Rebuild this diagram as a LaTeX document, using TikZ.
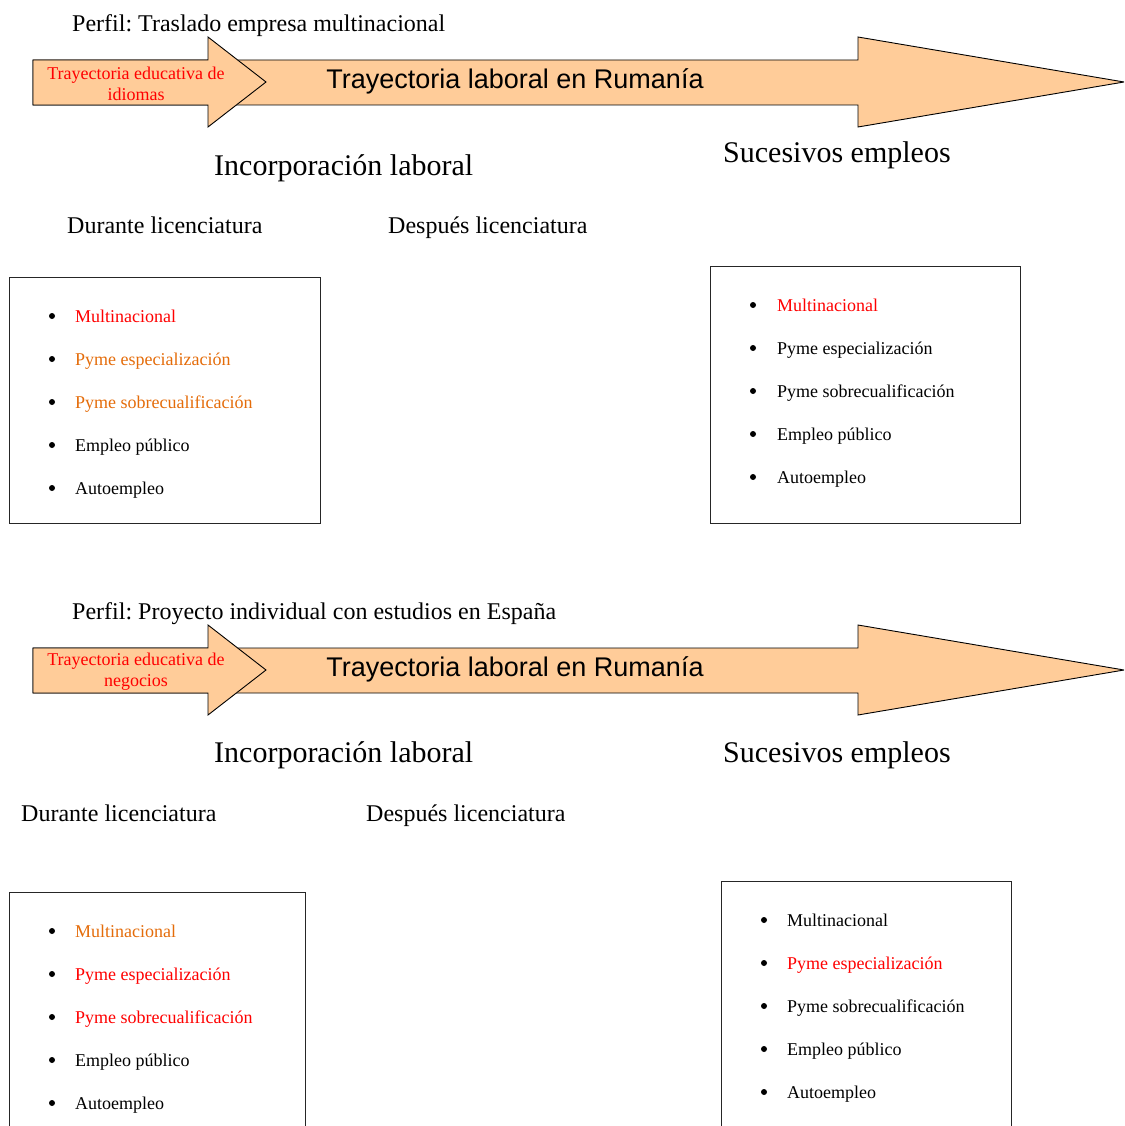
\documentclass[tikz,border=0pt]{standalone}
\usepackage{fontspec}
\setmainfont{Liberation Serif}
\newfontfamily\arialf{Liberation Sans}
\frenchspacing
\definecolor{peach}{RGB}{255,204,153}
\definecolor{orng}{RGB}{228,108,10}
\tikzset{
  arrowshape/.style={fill=peach, draw=black, line width=0.9pt, line join=miter},
  txt/.style={inner sep=0pt, text depth=0pt},
  perfilst/.style={txt, text height=16.3pt, anchor=west, font=\fontsize{24}{28}\selectfont},
  subst/.style={txt, text height=16.3pt, anchor=west, font=\fontsize{24}{28}\selectfont},
  headst/.style={txt, text height=20.4pt, anchor=west, font=\fontsize{30}{34}\selectfont},
  edust/.style={inner sep=0pt, align=center, text=red, font=\fontsize{18}{21}\selectfont},
  labst/.style={txt, text height=19.5pt, font=\arialf\fontsize{27}{30}\selectfont},
  boxst/.style={draw=black!85, line width=0.9pt, anchor=north west, inner sep=0pt},
  itemst/.style={txt, text height=12.3pt, anchor=west, font=\fontsize{18}{21}\selectfont},
  bulst/.style={circle, fill=black, inner sep=0pt, minimum size=6pt},
}
\begin{document}
\begin{tikzpicture}[x=1pt,y=-1pt]
\useasboundingbox (0,0) rectangle (1124,1126);
\clip (0,0) rectangle (1124,1126);

% ---------- Group 1 ----------
\node[perfilst] (perfil1) at (72,23) {Perfil: Traslado empresa multinacional};
\draw[arrowshape] (33,60) -- (858,60) -- (858,37) -- (1124,82) -- (858,127) -- (858,105) -- (33,105) -- cycle;
\draw[arrowshape] (33,60) -- (208,60) -- (208,37) -- (266,82) -- (208,127) -- (208,105) -- (33,105) -- cycle;
\node[edust] (edu1) at (136,84) {Trayectoria educativa de\\idiomas};
\node[labst] (lab1) at (515,79) {Trayectoria laboral en Rumanía};
\node[headst] (inc1) at (214,165) {Incorporación laboral};
\node[headst] (suc1) at (723,152) {Sucesivos empleos};
\node[subst] (dur1) at (67,225) {Durante licenciatura};
\node[subst] (des1) at (388,225) {Después licenciatura};

\node[boxst, minimum width=311pt, minimum height=246pt] (box1) at (9,277) {};
\foreach \t/\c/\yy [count=\i] in {Multinacional/red/316, Pyme especialización/orng/359, Pyme sobrecualificación/orng/402, Empleo público/black/445, Autoempleo/black/488}{
  \node[bulst] (b1bul\i) at (52,\yy) {};
  \node[itemst, text=\c] (b1it\i) at (75,\yy) {\t};
}

\node[boxst, minimum width=310pt, minimum height=257pt] (box2) at (710,266) {};
\foreach \t/\c/\yy [count=\i] in {Multinacional/red/305, Pyme especialización/black/348, Pyme sobrecualificación/black/391, Empleo público/black/434, Autoempleo/black/477}{
  \node[bulst] (b2bul\i) at (753,\yy) {};
  \node[itemst, text=\c] (b2it\i) at (777,\yy) {\t};
}

% ---------- Group 2 ----------
\node[perfilst] (perfil2) at (72,611) {Perfil: Proyecto individual con estudios en España};
\draw[arrowshape] (33,648) -- (858,648) -- (858,625) -- (1124,670) -- (858,715) -- (858,693) -- (33,693) -- cycle;
\draw[arrowshape] (33,648) -- (208,648) -- (208,625) -- (266,670) -- (208,715) -- (208,693) -- (33,693) -- cycle;
\node[edust] (edu2) at (136,672) {Trayectoria educativa de\\negocios};
\node[labst] (lab2) at (515,667) {Trayectoria laboral en Rumanía};
\node[headst] (inc2) at (214,752) {Incorporación laboral};
\node[headst] (suc2) at (723,752) {Sucesivos empleos};
\node[subst] (dur2) at (21,813) {Durante licenciatura};
\node[subst] (des2) at (366,813) {Después licenciatura};

\node[boxst, minimum width=296pt, minimum height=260pt] (box3) at (9,892) {};
\foreach \t/\c/\yy [count=\i] in {Multinacional/orng/931, Pyme especialización/red/974, Pyme sobrecualificación/red/1017, Empleo público/black/1060, Autoempleo/black/1103}{
  \node[bulst] (b3bul\i) at (52,\yy) {};
  \node[itemst, text=\c] (b3it\i) at (75,\yy) {\t};
}

\node[boxst, minimum width=290pt, minimum height=270pt] (box4) at (721,881) {};
\foreach \t/\c/\yy [count=\i] in {Multinacional/black/920, Pyme especialización/red/963, Pyme sobrecualificación/black/1006, Empleo público/black/1049, Autoempleo/black/1092}{
  \node[bulst] (b4bul\i) at (764,\yy) {};
  \node[itemst, text=\c] (b4it\i) at (787,\yy) {\t};
}
\end{tikzpicture}
\end{document}
